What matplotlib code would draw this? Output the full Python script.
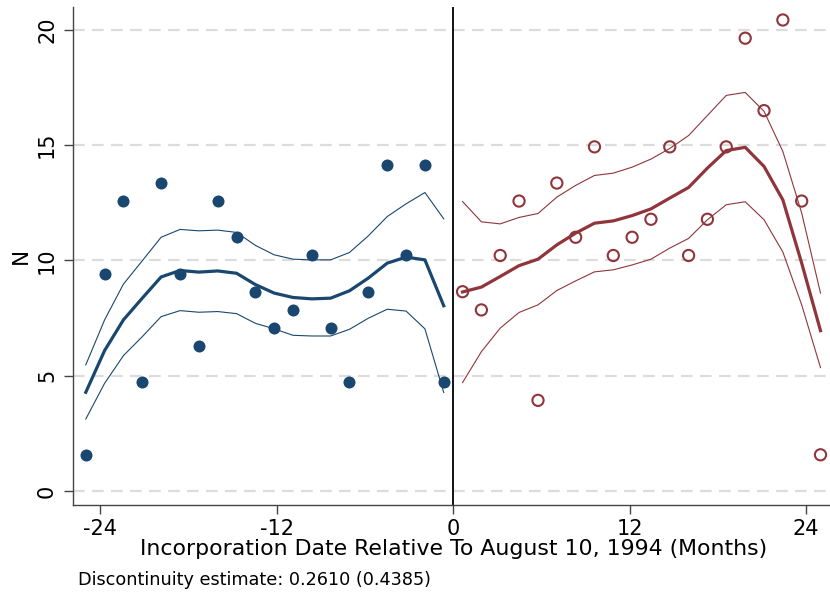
import numpy as np
import matplotlib
matplotlib.use("Agg")
import matplotlib.pyplot as plt

# bin centres (months relative to cutoff)
x_left = [-24.98, -23.70, -22.42, -21.14, -19.86, -18.57, -17.29, -16.01, -14.73, -13.45,
          -12.17, -10.89, -9.61, -8.33, -7.05, -5.77, -4.48, -3.20, -1.92, -0.64]
x_right = [0.64, 1.92, 3.20, 4.48, 5.77, 7.05, 8.33, 9.61, 10.89, 12.17,
           13.45, 14.73, 16.01, 17.29, 18.57, 19.86, 21.14, 22.42, 23.70, 24.98]

# binned means
y_left = [1.57, 9.42, 12.57, 4.71, 13.35, 9.42, 6.28, 12.57, 11.00, 8.64,
          7.07, 7.85, 10.21, 7.07, 4.71, 8.64, 14.14, 10.21, 14.14, 4.71]
y_right = [8.64, 7.85, 10.21, 12.57, 3.93, 13.35, 11.00, 14.92, 10.21, 11.00,
           11.78, 14.92, 10.21, 11.78, 14.92, 19.63, 16.49, 20.42, 12.57, 1.57]

# local fit and confidence band
fit_left = [4.28, 6.09, 7.42, 8.36, 9.28, 9.56, 9.49, 9.54, 9.44, 8.95,
            8.58, 8.39, 8.33, 8.36, 8.68, 9.23, 9.88, 10.14, 10.02, 8.03]
hi_left = [5.47, 7.42, 8.97, 9.98, 11.00, 11.34, 11.28, 11.31, 11.21, 10.65,
           10.24, 10.05, 10.02, 10.02, 10.34, 11.06, 11.90, 12.45, 12.94, 11.80]
lo_left = [3.12, 4.67, 5.87, 6.69, 7.56, 7.82, 7.75, 7.78, 7.69, 7.27,
           7.03, 6.75, 6.72, 6.72, 7.01, 7.49, 7.88, 7.80, 7.03, 4.27]

fit_right = [8.63, 8.84, 9.30, 9.77, 10.05, 10.67, 11.18, 11.61, 11.71, 11.94,
             12.23, 12.70, 13.16, 14.00, 14.76, 14.90, 14.07, 12.62, 9.88, 6.95]
hi_right = [12.55, 11.67, 11.58, 11.86, 12.03, 12.74, 13.25, 13.68, 13.78, 14.04,
            14.39, 14.85, 15.41, 16.28, 17.15, 17.28, 16.46, 14.72, 12.05, 8.58]
lo_right = [4.70, 6.04, 7.06, 7.74, 8.07, 8.69, 9.11, 9.50, 9.59, 9.80,
            10.05, 10.53, 10.95, 11.76, 12.41, 12.54, 11.76, 10.36, 8.07, 5.35]

x_ticks = [-24, -12, 0, 12, 24]
y_ticks = [0, 5, 10, 15, 20]
note = "Discontinuity estimate: 0.2610 (0.4385)"
navy = "#1a476f"
maroon = "#90353b"

W, H = 830, 592
fig = plt.figure(figsize=(W / 100, H / 100), dpi=100)
ax = fig.add_axes([73 / W, (H - 505) / H, (833.3 - 73) / W, (505 - 7.3) / H])

for yv in y_ticks:
    ax.axhline(yv, color="#dcdcdc", lw=1.6, dashes=(5.25, 3.3), zorder=0)
ax.axvline(0, color="black", lw=1.3, zorder=1)

# left of cutoff
ax.plot(x_left, hi_left, color=navy, lw=0.8)
ax.plot(x_left, lo_left, color=navy, lw=0.8)
ax.plot(x_left, fit_left, color=navy, lw=2.3)
ax.scatter(x_left, y_left, s=75, color=navy, zorder=3, linewidths=0)

# right of cutoff
ax.plot(x_right, hi_right, color=maroon, lw=0.8)
ax.plot(x_right, lo_right, color=maroon, lw=0.8)
ax.plot(x_right, fit_right, color=maroon, lw=2.3)
ax.scatter(x_right, y_right, s=65, facecolors="none", edgecolors=maroon,
           linewidths=1.5, zorder=3)

ax.set_xlim(-25.85, 25.85)
ax.set_ylim(-0.607, 20.97)
ax.set_xticks(x_ticks)
ax.set_xticklabels([str(t) for t in x_ticks], fontsize=15)
ax.set_yticks(y_ticks)
ax.set_yticklabels([str(t) for t in y_ticks], fontsize=15, rotation=90, va="center")
ax.tick_params(axis="both", length=6.5, width=1, color="#444444", pad=3.5)
ax.tick_params(axis="y", pad=5)

for s in ["top", "right"]:
    ax.spines[s].set_visible(False)
for s in ["left", "bottom"]:
    ax.spines[s].set_color("#444444")
    ax.spines[s].set_linewidth(1.0)

ax.set_xlabel("Incorporation Date Relative To August 10, 1994 (Months)", fontsize=15.8, labelpad=0)
fig.text(21 / W, 1 - 256 / H, "N", rotation=90, fontsize=15.5, ha="center", va="center")
fig.text(78 / W, 1 - 585 / H, note, fontsize=12.7, ha="left", va="baseline")

fig.savefig("out.png", dpi=100)
